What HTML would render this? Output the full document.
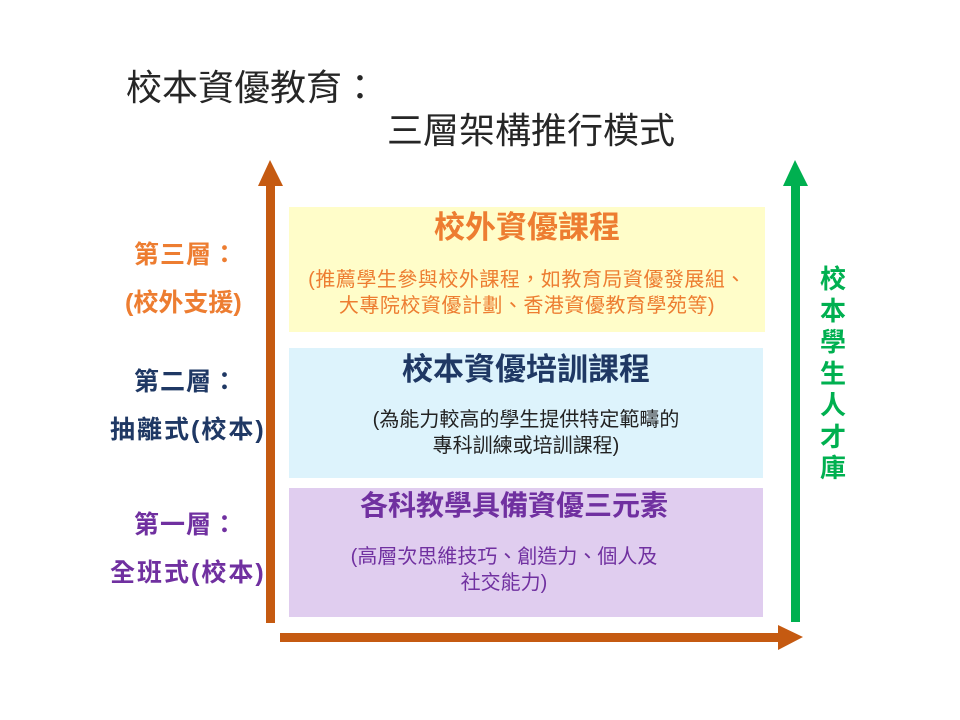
<!DOCTYPE html>
<html><head><meta charset="utf-8"><style>
body{margin:0;width:960px;height:720px;background:#fff;position:relative;overflow:hidden;font-family:"Liberation Sans","Noto Sans CJK TC",sans-serif}
.t{position:absolute;white-space:nowrap;line-height:1}
.box{position:absolute}
.c{text-align:center}
</style></head><body>
<div class="t" style="left:126px;top:70px;font-size:36px;color:#262626;">校本資優教育：</div>
<div class="t" style="left:387px;top:113px;font-size:36px;color:#262626;">三層架構推行模式</div>

<svg width="960" height="720" style="position:absolute;left:0;top:0">
<rect x="266" y="182" width="9" height="441" fill="#c55a11"/>
<polygon points="258,186 283,186 270,160" fill="#c55a11"/>
<rect x="280" y="633" width="502" height="9" fill="#c55a11"/>
<polygon points="778,625 778,650 803,637" fill="#c55a11"/>
<rect x="791" y="182" width="9" height="440" fill="#00b050"/>
<polygon points="783,186 808,186 795,160" fill="#00b050"/>
</svg>

<div class="box" style="left:289px;top:207px;width:476px;height:125px;background:#fffdc9"></div>
<div class="box" style="left:289px;top:348px;width:474px;height:130px;background:#ddf3fc"></div>
<div class="box" style="left:289px;top:488px;width:474px;height:129px;background:#e0cdef"></div>

<div class="t c" style="left:289px;width:476px;top:212px;font-size:31px;font-weight:bold;color:#ed7d31">校外資優課程</div>
<div class="t c" style="left:289px;width:476px;top:267px;font-size:20px;color:#ed7d31;line-height:26px;letter-spacing:0.5px">(推薦學生參與校外課程，如教育局資優發展組、<br>大專院校資優計劃、香港資優教育學苑等)</div>

<div class="t c" style="left:289px;width:474px;top:354px;font-size:31px;font-weight:bold;color:#1f3864">校本資優培訓課程</div>
<div class="t c" style="left:289px;width:474px;top:407px;font-size:20px;color:#222;line-height:26px">(為能力較高的學生提供特定範疇的<br>專科訓練或培訓課程)</div>

<div class="t c" style="left:289px;width:450px;top:492px;font-size:28px;font-weight:bold;color:#7030a0">各科教學具備資優三元素</div>
<div class="t c" style="left:289px;width:430px;top:544px;font-size:20px;color:#7030a0;line-height:26px">(高層次思維技巧、創造力、個人及<br>社交能力)</div>

<div class="t" style="left:134px;top:243px;font-size:25px;font-weight:bold;color:#ed7d31;letter-spacing:1px">第三層：</div>
<div class="t" style="left:125px;top:291px;font-size:25px;font-weight:bold;color:#ed7d31">(校外支援)</div>
<div class="t" style="left:134px;top:370px;font-size:25px;font-weight:bold;color:#1f3864;letter-spacing:1px">第二層：</div>
<div class="t" style="left:110px;top:418px;font-size:25px;font-weight:bold;color:#1f3864;letter-spacing:2px">抽離式(校本)</div>
<div class="t" style="left:134px;top:513px;font-size:25px;font-weight:bold;color:#7030a0;letter-spacing:1px">第一層：</div>
<div class="t" style="left:110px;top:561px;font-size:25px;font-weight:bold;color:#7030a0;letter-spacing:2px">全班式(校本)</div>

<div class="t" style="left:819px;top:264px;width:28px;font-size:26px;font-weight:bold;color:#00b050;white-space:normal;line-height:31.5px;text-align:center">校本學生人才庫</div>
</body></html>
